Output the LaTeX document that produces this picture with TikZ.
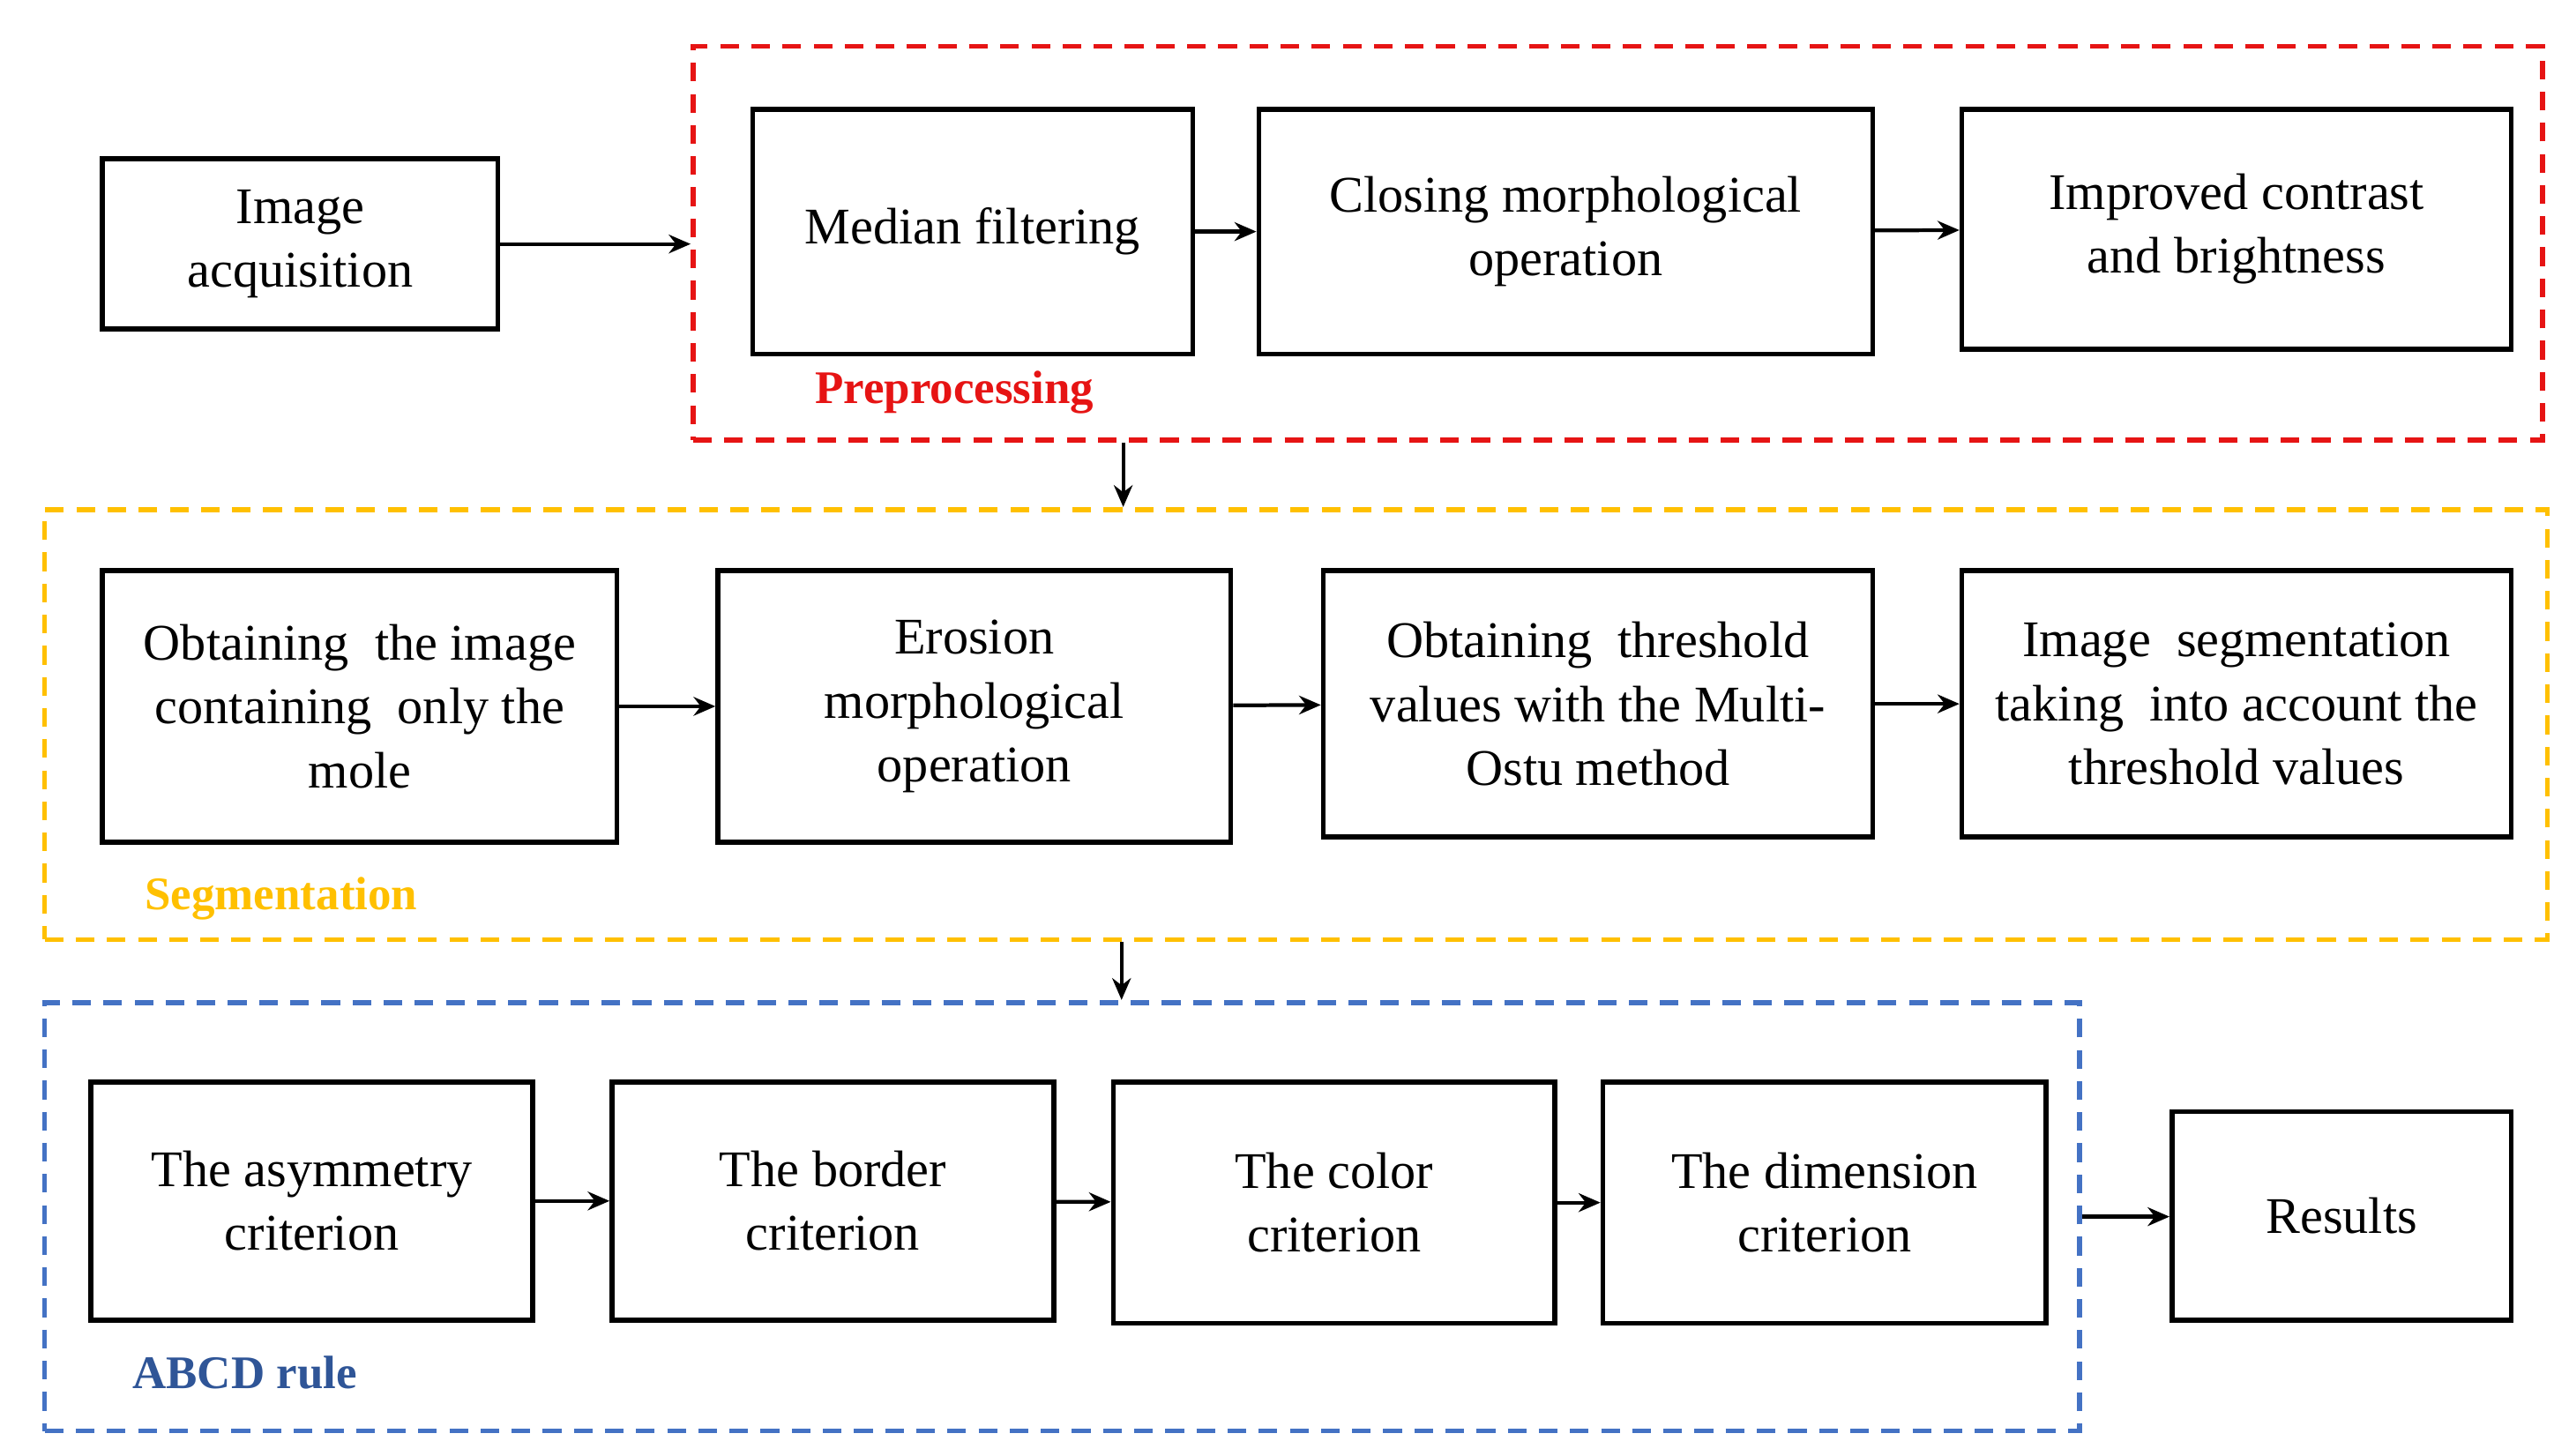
\documentclass[tikz,border=0pt]{standalone}
\usepackage{fontspec}
\setmainfont{Liberation Serif}
\usetikzlibrary{arrows.meta,positioning}
\definecolor{prered}{RGB}{230,20,20}
\definecolor{segorange}{RGB}{255,192,0}
\definecolor{abcdblue}{RGB}{68,114,196}
\definecolor{abcdtext}{RGB}{47,85,151}
\tikzset{%
       box/.style = { draw, line width=1.6pt, align=center, inner sep=0pt,
                      font=\fontsize{16.5}{20.5}\selectfont },
     group/.style = { draw, line width=1.6pt, dash pattern=on 6pt off 4pt, inner sep=0pt },
     gname/.style = { font=\fontsize{15}{18}\selectfont\bfseries },
      flow/.style = { -{Stealth[length=7pt,width=6pt]}, line width=1.2pt },
        wh/.style 2 args = { minimum width=#1*0.01867cm, minimum height=#2*0.01867cm }
}
\begin{document}
\begin{tikzpicture}[x=0.01867cm,y=-0.01867cm]
\useasboundingbox (0,0) rectangle (1553,880);
% groups
\node[group,prered,wh={1118}{238}] (pre) at (978,147) {};
\node[group,segorange,wh={1513}{260}] (segm) at (783.5,438) {};
\node[group,abcdblue,wh={1230}{259}] (abcd) at (642,735.5) {};
\node[gname,prered] (prelabel) at (577,237) {Preprocessing};
\node[gname,segorange] (seglabel) at (170,543) {Segmentation};
\node[gname,abcdtext] (abcdlabel) at (148,830) {ABCD rule};
% first row
\node[box,wh={239}{103}] (acq) at (181.5,147.5) {Image\\acquisition};
\node[box,wh={266}{148}] (med) at (588,140) {Median filtering};
\node[box,wh={371}{148}] (clo) at (946.5,140) {Closing morphological\\operation};
\node[box,wh={332}{145}] (imp) at (1352,138.5) {Improved contrast\\and brightness};
% second row
\node[box,wh={311}{164}] (mole) at (217.5,427) {Obtaining\ \ the image\\containing\ \ only the\\mole};
\node[box,wh={310}{164}] (ero) at (589,427) {Erosion\\morphological\\operation};
\node[box,wh={332}{161}] (thr) at (966,425.5) {Obtaining\ \ threshold\\values with the Multi-\\Ostu method};
\node[box,wh={332}{161}] (seg) at (1352,425.5) {Image\ \ segmentation\\taking\ \ into account the\\threshold values};
% third row
\node[box,wh={267}{144}] (asy) at (188.5,726) {The asymmetry\\criterion};
\node[box,wh={267}{144}] (bor) at (503.5,726) {The border\\criterion};
\node[box,wh={267}{146}] (col) at (806.5,727) {The color\\criterion};
\node[box,wh={268}{146}] (dim) at (1103,727) {The dimension\\criterion};
\node[box,wh={205}{126}] (res) at (1415.5,735) {Results};
% connectors
\draw[flow] (acq.east) -- (pre.west |- acq.east);
\draw[flow] (med) -- (clo);
\draw[flow] (clo) -- (imp);
\draw[flow] (pre.south -| 679,0) -- (segm.north -| 679,0);
\draw[flow] (mole) -- (ero);
\draw[flow] (ero) -- (thr);
\draw[flow] (thr) -- (seg);
\draw[flow] (segm.south -| 678,0) -- (abcd.north -| 678,0);
\draw[flow] (asy) -- (bor);
\draw[flow] (bor) -- (col);
\draw[flow] (col) -- (dim);
\draw[flow] (abcd.east) -- (res.west |- abcd.east);
\end{tikzpicture}
\end{document}
